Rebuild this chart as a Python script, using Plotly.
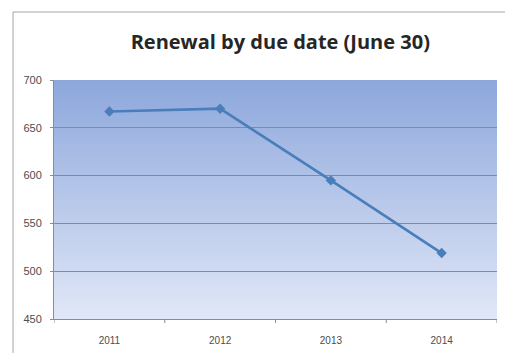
import plotly.graph_objects as go

years = ["2011", "2012", "2013", "2014"]
renewals = [667, 670, 595, 519]
y_ticks = [450, 500, 550, 600, 650, 700]

x_pos = list(range(len(years)))

fig = go.Figure()
fig.add_trace(go.Scatter(
    x=x_pos, y=renewals, mode="lines+markers",
    line=dict(color="#4a7ebb", width=2.6),
    marker=dict(symbol="diamond", size=8, color="#4a7ebb"),
    showlegend=False, hoverinfo="skip",
))

# gradient background (overlapping bands)
n = 80
top = (142, 168, 220)
bot = (224, 231, 247)
shapes = []
for i in range(n):
    t = i / (n - 1)
    c = tuple(round(top[k] + (bot[k] - top[k]) * t) for k in range(3))
    y1 = 1 - i / n
    y0 = max(0, 1 - (i + 1) / n - 0.8 / n)
    shapes.append(dict(type="rect", xref="x domain", yref="y domain",
                       x0=0, x1=1, y0=y0, y1=y1,
                       fillcolor="rgb(%d,%d,%d)" % c, line=dict(width=0),
                       layer="below"))
# outer chart frame (partially cropped)
shapes.append(dict(type="line", xref="paper", yref="paper",
                   x0=(13 - 54) / 443, x1=(13 - 54) / 443, y0=-0.3, y1=1 + (80 - 12) / 239,
                   line=dict(color="#a6a6a6", width=1), layer="below"))
shapes.append(dict(type="line", xref="paper", yref="paper",
                   x0=(13 - 54) / 443, x1=1.1, y0=1 + (80 - 12) / 239, y1=1 + (80 - 12) / 239,
                   line=dict(color="#a6a6a6", width=1), layer="below"))

fig.update_layout(
    width=505, height=353,
    margin=dict(l=54, r=8, t=80, b=34),
    paper_bgcolor="white", plot_bgcolor="white",
    shapes=shapes,
    title=dict(text="<b>Renewal by due date (June 30)</b>",
               x=0.555, xanchor="center", y=1 - 42 / 353, yanchor="middle",
               font=dict(family="Open Sans", size=20, color="#262626")),
    xaxis=dict(range=[-0.5, 3.5], tickvals=x_pos, ticktext=years,
               showgrid=False, showline=True, linecolor="#8c8c8c", linewidth=1,
               ticks="", ticklabelstandoff=12,
               tickfont=dict(family="Liberation Sans", size=10, color="#4d4d4d"),
               zeroline=False, fixedrange=True),
    yaxis=dict(range=[450, 700], tickvals=y_ticks,
               showgrid=True, gridcolor="#8a8a8a", gridwidth=1,
               showline=True, linecolor="#8c8c8c", linewidth=1,
               ticks="outside", ticklen=3, tickcolor="#8c8c8c",
               ticklabelstandoff=6,
               tickfont=dict(family="Liberation Sans", size=11, color="#4d4d4d"),
               zeroline=False, fixedrange=True),
)
# category boundary tick marks on x axis
for b in [-0.5, 0.5, 1.5, 2.5, 3.5]:
    fig.add_shape(type="line", xref="x", yref="paper", x0=b, x1=b,
                  y0=0, y1=-4 / 239, line=dict(color="#8c8c8c", width=1))

fig.write_html("out.html")
